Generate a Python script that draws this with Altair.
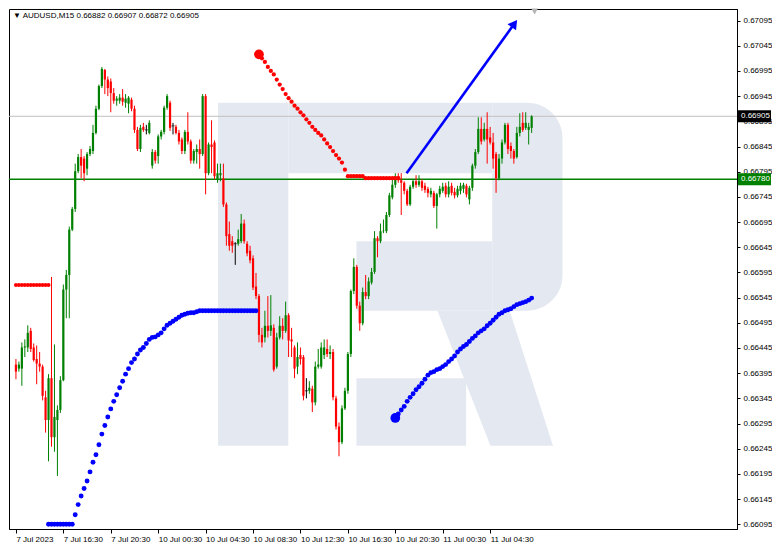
import altair as alt
import pandas as pd

W, H = 728, 520

# ---- candle data (prices in 1e-5 units, M15 bars) ----
opens = [66412, 66404, 66404, 66446, 66446, 66479, 66446, 66423, 66414, 66408,
         66347, 66302, 66385, 66268, 66302, 66322, 66381, 66561, 66590, 66680,
         66721, 66796, 66824, 66821, 66801, 66830, 66836, 66872, 66920, 66965,
         66997, 66978, 66974, 66951, 66936, 66936, 66942, 66932, 66930, 66938,
         66920, 66878, 66840, 66884, 66878, 66872, 66807, 66834, 66826, 66865,
         66874, 66922, 66932, 66886, 66884, 66872, 66859, 66836, 66874, 66855,
         66817, 66834, 66840, 66830, 66945, 66792, 66849, 66853, 66780, 66788,
         66782, 66730, 66671, 66657, 66652, 66652, 66657, 66692, 66652, 66638,
         66623, 66567, 66548, 66471, 66466, 66489, 66479, 66485, 66408, 66466,
         66489, 66479, 66510, 66462, 66446, 66408, 66431, 66427, 66360, 66360,
         66364, 66337, 66408, 66408, 66431, 66443, 66433, 66437, 66345, 66289,
         66258, 66325, 66360, 66433, 66558, 66606, 66529, 66494, 66556, 66548,
         66575, 66596, 66663, 66657, 66677, 66677, 66709, 66744, 66769, 66786,
         66778, 66773, 66757, 66730, 66765, 66776, 66769, 66776, 66767, 66761,
         66750, 66753, 66727, 66750, 66757, 66767, 66750, 66767, 66755, 66748,
         66757, 66761, 66767, 66740, 66763, 66807, 66834, 66880, 66859, 66880,
         66863, 66853, 66830, 66782, 66821, 66853, 66888, 66846, 66836, 66824,
         66872, 66892, 66882, 66878, 66882]
highs = [66423, 66418, 66456, 66462, 66490, 66485, 66454, 66450, 66437, 66412,
         66360, 66393, 66586, 66452, 66331, 66389, 66571, 66600, 66686, 66725,
         66811, 66830, 66840, 66826, 66834, 66846, 66888, 66926, 66968, 67003,
         66999, 66984, 66980, 66961, 66945, 66949, 66959, 66949, 66945, 66942,
         66926, 66884, 66888, 66892, 66888, 66897, 66840, 66838, 66869, 66878,
         66926, 66949, 66936, 66892, 66888, 66878, 66863, 66878, 66913, 66859,
         66840, 66849, 66859, 66949, 66949, 66853, 66897, 66857, 66811, 66811,
         66811, 66734, 66696, 66667, 66655, 66680, 66711, 66700, 66657, 66648,
         66629, 66594, 66552, 66485, 66519, 66548, 66550, 66492, 66475, 66508,
         66504, 66537, 66514, 66485, 66450, 66456, 66446, 66431, 66385, 66379,
         66370, 66418, 66443, 66456, 66462, 66462, 66450, 66443, 66350, 66297,
         66331, 66366, 66437, 66561, 66623, 66610, 66537, 66565, 66590, 66585,
         66604, 66677, 66667, 66692, 66700, 66715, 66753, 66782, 66792, 66792,
         66792, 66776, 66761, 66769, 66780, 66788, 66788, 66780, 66773, 66765,
         66763, 66757, 66753, 66767, 66773, 66773, 66776, 66773, 66763, 66767,
         66773, 66773, 66771, 66767, 66811, 66840, 66903, 66903, 66892, 66913,
         66884, 66872, 66834, 66830, 66859, 66892, 66892, 66853, 66840, 66884,
         66911, 66913, 66913, 66892, 66907]
lows = [66383, 66398, 66370, 66427, 66437, 66437, 66418, 66373, 66398, 66341,
        66277, 66220, 66249, 66239, 66191, 66316, 66379, 66504, 66504, 66677,
        66715, 66792, 66782, 66776, 66788, 66826, 66830, 66869, 66917, 66961,
        66949, 66945, 66913, 66930, 66926, 66930, 66926, 66922, 66911, 66915,
        66872, 66836, 66834, 66874, 66869, 66869, 66801, 66811, 66811, 66859,
        66869, 66918, 66876, 66869, 66869, 66849, 66830, 66830, 66849, 66811,
        66811, 66811, 66801, 66826, 66750, 66788, 66792, 66780, 66773, 66776,
        66725, 66648, 66638, 66634, 66610, 66648, 66653, 66652, 66627, 66613,
        66560, 66542, 66456, 66446, 66456, 66466, 66469, 66398, 66404, 66462,
        66462, 66475, 66427, 66427, 66385, 66393, 66412, 66341, 66345, 66354,
        66318, 66331, 66404, 66404, 66423, 66427, 66423, 66341, 66283, 66230,
        66254, 66322, 66354, 66427, 66552, 66523, 66479, 66490, 66542, 66542,
        66571, 66592, 66625, 66653, 66673, 66673, 66705, 66740, 66763, 66773,
        66709, 66750, 66727, 66727, 66761, 66763, 66765, 66757, 66753, 66744,
        66744, 66723, 66682, 66744, 66753, 66744, 66744, 66748, 66742, 66744,
        66750, 66753, 66744, 66730, 66757, 66801, 66830, 66849, 66855, 66811,
        66849, 66801, 66753, 66778, 66811, 66849, 66830, 66821, 66811, 66821,
        66865, 66874, 66878, 66849, 66872]
closes = [66398, 66412, 66446, 66448, 66475, 66443, 66421, 66414, 66408, 66350,
          66302, 66385, 66268, 66308, 66322, 66381, 66561, 66590, 66680, 66721,
          66796, 66824, 66807, 66792, 66830, 66840, 66872, 66920, 66965, 66999,
          66978, 66961, 66951, 66936, 66940, 66942, 66934, 66940, 66942, 66920,
          66878, 66840, 66882, 66878, 66878, 66892, 66834, 66817, 66865, 66874,
          66922, 66945, 66882, 66886, 66872, 66855, 66836, 66874, 66855, 66817,
          66836, 66840, 66830, 66945, 66792, 66849, 66844, 66786, 66792, 66792,
          66730, 66667, 66648, 66648, 66652, 66661, 66692, 66657, 66633, 66619,
          66565, 66548, 66471, 66456, 66489, 66479, 66490, 66402, 66466, 66489,
          66479, 66510, 66460, 66458, 66404, 66427, 66423, 66350, 66360, 66366,
          66337, 66408, 66412, 66446, 66446, 66433, 66437, 66347, 66289, 66258,
          66325, 66360, 66433, 66558, 66606, 66529, 66494, 66556, 66548, 66577,
          66596, 66663, 66657, 66677, 66678, 66709, 66748, 66769, 66786, 66778,
          66773, 66757, 66730, 66765, 66776, 66769, 66776, 66763, 66759, 66753,
          66757, 66727, 66750, 66761, 66765, 66750, 66765, 66753, 66748, 66761,
          66767, 66769, 66750, 66763, 66807, 66834, 66880, 66855, 66880, 66859,
          66853, 66821, 66782, 66821, 66853, 66888, 66840, 66836, 66821, 66872,
          66884, 66878, 66892, 66884, 66905]

# ---- indicator dots (prices in 1e-5 units) ----
red_left_start = 0
red_left = [66570, 66570, 66570, 66570, 66570, 66570, 66570, 66570, 66570, 66570, 66570, 66570]

blue1_start = 11
blue1 = [66095, 66095, 66095, 66095, 66095, 66095, 66095, 66095, 66095,
         66114, 66134, 66151, 66166, 66181, 66199, 66218, 66233, 66253, 66274,
         66291, 66308, 66324, 66339, 66352, 66366, 66379, 66393, 66404, 66416,
         66423, 66433, 66441, 66446, 66454, 66462, 66466, 66467, 66471, 66475,
         66483, 66490, 66494, 66498, 66502, 66506, 66510, 66512, 66514, 66515,
         66515, 66517,
         66519, 66519, 66519, 66519, 66519, 66519, 66519, 66519, 66519, 66519,
         66519, 66519, 66519, 66519, 66519, 66519, 66519, 66519, 66519, 66519]

red2_start = 82
red2 = [67028, 67020, 67013, 67003, 66995, 66988, 66978, 66968, 66959, 66949,
        66941, 66934, 66926, 66920, 66913, 66907, 66899, 66892, 66884, 66878,
        66872, 66867, 66859, 66851, 66844, 66836, 66828, 66821, 66813, 66799,
        66786, 66786, 66786, 66786, 66786, 66786,
        66782, 66782, 66782, 66782, 66782, 66782, 66782, 66782, 66782, 66782, 66782, 66782]

blue2_start = 128
blue2 = [66306, 66314, 66322, 66329, 66339, 66347, 66354, 66362, 66368, 66375,
         66383, 66391, 66396, 66398, 66402, 66404, 66408, 66412, 66418, 66423,
         66429, 66437, 66443, 66448, 66452, 66458, 66464, 66469, 66475, 66479,
         66483, 66489, 66494, 66500, 66506, 66512, 66515, 66519, 66521, 66523,
         66527, 66531, 66533, 66535, 66537, 66540, 66544]

# trend arrow (bar index, price)
arrow_i = [131.8, 168.2]
arrow_p = [0.66792, 0.67089]

# levels
level_grey = 0.66905
level_green = 0.66780
tag_prices = [0.66905, 0.66780]
tag_texts = ["0.66905", "0.66780"]
tag_colors = ["#000000", "#008000"]

# axes
x_tick_idx = [0, 16, 32, 48, 64, 80, 96, 112, 128, 144, 160]
x_tick_labels = ["7 Jul 2023", "7 Jul 16:30", "7 Jul 20:30", "10 Jul 00:30", "10 Jul 04:30",
                 "10 Jul 08:30", "10 Jul 12:30", "10 Jul 16:30", "10 Jul 20:30",
                 "11 Jul 00:30", "11 Jul 04:30"]
y_ticks = [0.66095, 0.66145, 0.66195, 0.66245, 0.66295, 0.66345, 0.66395, 0.66445,
           0.66495, 0.66545, 0.66595, 0.66645, 0.66695, 0.66745, 0.66795, 0.66845,
           0.66895, 0.66945, 0.66995, 0.67045, 0.67095]

title_text = "\u25BC AUDUSD,M15  0.66882 0.66907 0.66872 0.66905"

# watermark logo pieces (bar index / price in 1e-5 units)
wm_x1 = [68.2, 91.9, 114.9, 114.9]
wm_x2 = [91.9, 160.7, 160.7, 151.9]
wm_y1 = [66932, 66932, 66657, 66385]
wm_y2 = [66251, 66792, 66519, 66251]
wm_bowl = [160.7, 184.4, 66932, 66519]
wm_leg_y = [66519, 66251]
wm_leg_xa = [142.2, 160.1]
wm_leg_xb = [166.6, 181.2]

# ---------------------------------------------------------------
assert len(opens) == len(highs) == len(lows) == len(closes)
n = len(opens)

def pr(v):
    return v / 100000.0

candles = pd.DataFrame({
    "i": list(range(n)),
    "o": [pr(v) for v in opens],
    "h": [pr(v) for v in highs],
    "l": [pr(v) for v in lows],
    "c": [pr(v) for v in closes],
})
candles["dir"] = ["up" if c > o else ("down" if c < o else "flat")
                  for o, c in zip(opens, closes)]

def series(start, vals):
    return pd.DataFrame({"i": list(range(start, start + len(vals))),
                         "p": [pr(v) for v in vals]})

xs = alt.Scale(domain=[-0.65, 241.6], nice=False, zero=False)
ys = alt.Scale(domain=[0.660856, 0.67118], nice=False, zero=False)
col = alt.Color("dir:N", scale=alt.Scale(domain=["up", "down", "flat"],
                                        range=["#008000", "#ff0000", "#000000"]),
                legend=None)

label_expr = ("[" + ",".join("'%s'" % t for t in x_tick_labels) + "][indexof(["
              + ",".join(str(v) for v in x_tick_idx) + "], datum.value)]")

x_axis = alt.Axis(values=x_tick_idx, labelExpr=label_expr, orient="bottom",
                  labelAlign="left", labelPadding=2, tickSize=4, grid=False,
                  title=None, labelFlush=False, labelOverlap=False)
y_axis = alt.Axis(values=y_ticks, format=".5f", orient="right", tickSize=3,
                  labelPadding=3, grid=False, title=None, labelOverlap=False)


def X(field):
    return alt.X(field, scale=xs, axis=x_axis)


def Y(field):
    return alt.Y(field, scale=ys, axis=y_axis)


# watermark
wm_df = pd.DataFrame({"x1": wm_x1, "x2": wm_x2,
                      "y1": [pr(v) for v in wm_y1], "y2": [pr(v) for v in wm_y2]})
wm_color = "#e4e9f1"
wm = alt.Chart(wm_df).mark_rect(color=wm_color).encode(
    x=X("x1:Q"), x2="x2:Q", y=Y("y1:Q"), y2="y2:Q")
bowl_df = pd.DataFrame({"x1": [wm_bowl[0]], "x2": [wm_bowl[1]],
                        "y1": [pr(wm_bowl[2])], "y2": [pr(wm_bowl[3])]})
bowl = alt.Chart(bowl_df).mark_rect(color=wm_color, cornerRadiusTopRight=55,
                                    cornerRadiusBottomRight=40).encode(
    x=X("x1:Q"), x2="x2:Q", y=Y("y1:Q"), y2="y2:Q")
leg_df = pd.DataFrame({"y": [pr(v) for v in wm_leg_y], "xa": wm_leg_xa, "xb": wm_leg_xb})
leg = alt.Chart(leg_df).mark_area(color=wm_color, orient="horizontal").encode(
    y=Y("y:Q"), x=X("xa:Q"), x2="xb:Q")

lv = pd.DataFrame({"p": [level_grey, level_green], "k": ["grey", "green"]})
grey_line = alt.Chart(lv[lv.k == "grey"]).mark_rule(color="#c0c0c0", strokeWidth=1).encode(
    y=Y("p:Q"))
green_line = alt.Chart(lv[lv.k == "green"]).mark_rule(color="#008000", strokeWidth=1.6).encode(
    y=Y("p:Q"))

base = alt.Chart(candles)
wicks = base.mark_rule(strokeWidth=1).encode(
    x=X("i:Q"), y=Y("l:Q"), y2="h:Q", color=col)
bodies = base.mark_bar(size=2.2).encode(
    x=X("i:Q"), y=Y("o:Q"), y2="c:Q", color=col)
dojis = base.transform_filter("datum.dir == 'flat'").mark_tick(
    orient="horizontal", size=3, thickness=1, color="#000000").encode(
    x=X("i:Q"), y=Y("o:Q"))


def dots(df, color, size):
    return alt.Chart(df).mark_circle(color=color, size=size, opacity=1).encode(
        x=X("i:Q"), y=Y("p:Q"))


red_left_df = series(red_left_start, red_left)
blue1_df = series(blue1_start, blue1)
red2_df = series(red2_start, red2)
blue2_df = series(blue2_start, blue2)

d1 = dots(red_left_df, "#ff0000", 16)
d2 = dots(blue1_df, "#0000ff", 24)
d3 = dots(red2_df, "#ff0000", 18)
d3b = dots(red2_df.head(1), "#ff0000", 95)
d4 = dots(blue2_df, "#0000ff", 24)
d4b = dots(blue2_df.head(1), "#0000ff", 95)

arrow_df = pd.DataFrame({"i": arrow_i, "p": arrow_p})
arrow_line = alt.Chart(arrow_df).mark_line(color="#0000ff", strokeWidth=2.6).encode(
    x=X("i:Q"), y=Y("p:Q"))
arrow_head = alt.Chart(arrow_df.tail(1)).mark_point(
    shape="triangle-up", filled=True, color="#0000ff", size=110, angle=36, opacity=1).encode(
    x=X("i:Q"), y=Y("p:Q"))

shift_df = pd.DataFrame({"i": [175.0], "p": [0.67113]})
shift_mark = alt.Chart(shift_df).mark_point(
    shape="triangle-down", filled=True, color="#b4b4b4", size=45, opacity=1).encode(
    x=X("i:Q"), y=Y("p:Q"))

tags_df = pd.DataFrame({"p": tag_prices, "t": tag_texts, "c": tag_colors})
tags_df["lo"] = tags_df["p"] - 0.00012
tags_df["hi"] = tags_df["p"] + 0.00012
tag_rect = alt.Chart(tags_df).mark_rect().encode(
    x=alt.value(W + 1), x2=alt.value(W + 34),
    y=Y("lo:Q"), y2="hi:Q",
    color=alt.Color("c:N", scale=None))
tag_text = alt.Chart(tags_df).mark_text(align="left", baseline="middle", color="white",
                                        font="Liberation Sans", fontSize=8).encode(
    x=alt.value(W + 4), y=Y("p:Q"), text="t:N")

title_df = pd.DataFrame({"t": [title_text]})
title = alt.Chart(title_df).mark_text(align="left", baseline="middle", color="#000000",
                                      font="Liberation Sans", fontSize=8).encode(
    x=alt.value(4), y=alt.value(7), text="t:N")

chart = alt.layer(
    wm, bowl, leg, grey_line, green_line, wicks, bodies, dojis,
    d1, d2, d3, d3b, d4, d4b, arrow_line, arrow_head, shift_mark,
    tag_rect, tag_text, title
).properties(width=W, height=H, padding=0, background="white").configure_axis(
    labelFont="Liberation Sans", labelFontSize=8, labelColor="#000000",
    tickColor="#000000", domainColor="#000000"
).configure_view(stroke="#000000", strokeWidth=1)

chart.save("out.html", embed_options={"renderer": "svg", "actions": False})
